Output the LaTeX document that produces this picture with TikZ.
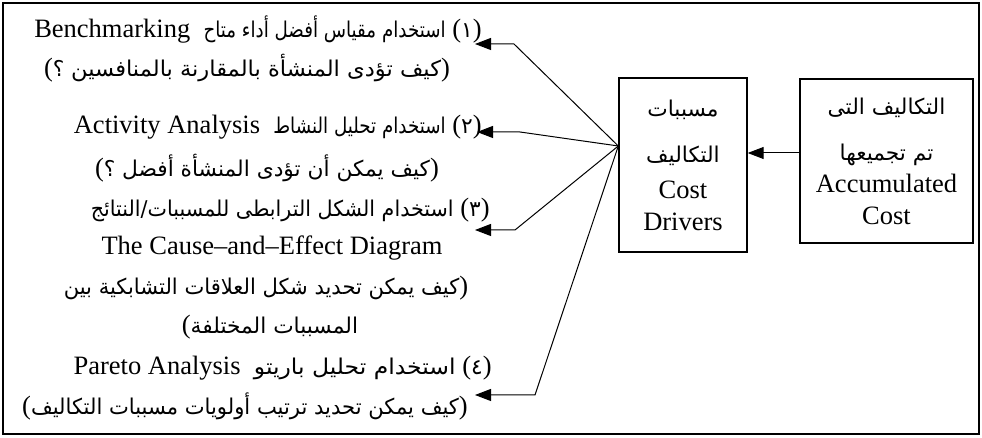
\documentclass[tikz,border=0pt]{standalone}
\usepackage{graphicx}
\usepackage{fontspec}
\setmainfont{Liberation Serif}
\newfontfamily\arabicfont[Script=Arabic,Scale=0.82]{DejaVu Sans}
\TeXXeTstate=1
\usetikzlibrary{arrows.meta}
\newcommand{\ar}[2][1]{\scalebox{#1}[1]{\arabicfont\beginR #2\endR}}
\newcommand{\num}[1]{(\hbox{\arabicfont #1})}
\newcommand{\qm}{\hbox{\arabicfont ؟}}

\begin{document}
\begin{tikzpicture}[x=0.5pt,y=-0.5pt]

    \tikzstyle{txt}=[inner sep=0pt, font=\fontsize{13.25}{16}\selectfont]
    \tikzstyle{box}=[draw, line width=0.7pt, align=center, inner sep=0pt, font=\fontsize{13.25}{16}\selectfont]
    \tikzstyle{arr}=[line width=0.5pt, -{Triangle[length=8pt,width=6pt]}]

    \useasboundingbox (0,0) rectangle (982,438);
    \draw[line width=0.8pt] (3,3) rectangle (979,434);

    \node[box, minimum width=64pt, minimum height=87pt] (cd) at (683,165)
        {\ar{مسببات}\\[7pt]\ar{التكاليف}\\[2pt]Cost\\Drivers};
    \node[box, minimum width=86.5pt, minimum height=82pt] (ac) at (886.5,161)
        {\ar{التكاليف التى}\\[7pt]\ar{تم تجميعها}\\[0pt]Accumulated\\Cost};

    \node[txt, anchor=east] (l1) at (482,30) {Benchmarking\ \ \ar[0.84]{استخدام مقياس أفضل أداء متاح}\ \num{١}};
    \node[txt] (l2) at (247,68) {(\qm\ \ar[1.04]{كيف تؤدى المنشأة بالمقارنة بالمنافسين})};
    \node[txt, anchor=east] (l3) at (482,127) {Activity Analysis\ \ \ar[0.84]{استخدام تحليل النشاط}\ \num{٢}};
    \node[txt] (l4) at (267,168) {(\qm\ \ar{كيف يمكن أن تؤدى المنشأة أفضل})};
    \node[txt, anchor=east] (l5) at (490,210) {\ar[0.95]{استخدام الشكل الترابطى للمسببات/النتائج}\ \num{٣}};
    \node[txt] (l6) at (272,248) {The Cause--and--Effect Diagram};
    \node[txt] (l7) at (266,288) {\ar[0.97]{كيف يمكن تحديد شكل العلاقات التشابكية بين})};
    \node[txt] (l8) at (270,327) {(\ar{المسببات المختلفة}};
    \node[txt, anchor=east] (l9) at (492,368) {Pareto Analysis\ \ \ar[1.08]{استخدام تحليل باريتو}\ \num{٤}};
    \node[txt] (l10) at (245,406) {(\ar[0.97]{كيف يمكن تحديد ترتيب أولويات مسببات التكاليف})};

    \coordinate (fan) at ([yshift=9.5pt]cd.west);
    \coordinate (acin) at ([yshift=4pt]ac.west);
    \coordinate (t1) at (475,44);
    \coordinate (t2) at (477,132);
    \coordinate (t3) at (475,230);
    \coordinate (t4) at (475,395);

    \draw[arr] (acin) -- (acin -| cd.east);
    \draw[arr] (fan) -- (514,44) -- (t1);
    \draw[arr] (fan) -- (520,132) -- (t2);
    \draw[arr] (fan) -- (515,230) -- (t3);
    \draw[arr] (fan) -- (535,395) -- (t4);
\end{tikzpicture}
\end{document}
